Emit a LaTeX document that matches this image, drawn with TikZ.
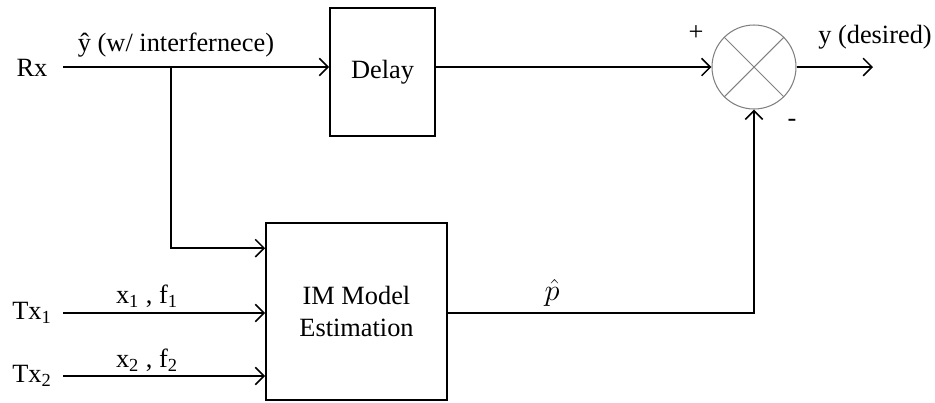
\documentclass[tikz,border=0pt]{standalone}
\usepackage{fontspec}
\setmainfont{Liberation Serif}
\usetikzlibrary{arrows.meta, calc, positioning}
\tikzset{
    block/.style={draw, line width=0.9pt, inner sep=0pt},
    signal/.style={line width=0.9pt, -{Straight Barb[length=5pt,width=10pt]}},
    mixer/.style={draw=gray, line width=0.6pt, circle, minimum size=1.68cm, inner sep=0pt}
}
\begin{document}
\begin{tikzpicture}[font=\fontsize{15}{18}\selectfont]
    \useasboundingbox (0, 0) rectangle (18.7, -8.04);
    % blocks
    \node[block, minimum width=2.1cm, minimum height=2.56cm] (delay) at (7.65, -1.44) {Delay};
    \node[block, minimum width=3.62cm, minimum height=3.54cm, align=center] (im) at (7.13, -6.23) {IM Model\\Estimation};
    \node[mixer] (sum) at (15.08, -1.34) {};
    \draw[gray, line width=0.6pt]
    (sum.north west) -- (sum.south east)
    (sum.north east) -- (sum.south west);
    % free ends
    \coordinate (rxin) at (1.26, -1.34);
    \coordinate (tap) at (3.42, -1.34);
    \coordinate (txa) at (1.26, -6.26);
    \coordinate (txb) at (1.26, -7.52);
    \coordinate (yout) at (17.46, -1.34);
    % signals
    \draw[signal] (rxin) -- (rxin -| delay.west);
    \draw[signal] (tap) |- ([yshift=-0.52cm]im.north west);
    \draw[signal] (txa) -- (txa -| im.west);
    \draw[signal] (txb) -- (txb -| im.west);
    \draw[signal] (delay.east |- rxin) -- (sum.west);
    \draw[signal] (im.east |- txa) -| (sum.south);
    \draw[signal] (sum.east) -- (yout);
    % labels
    \node (rx) at (0.64, -1.36) {Rx};
    \node (tx1) at (0.64, -6.26) {Tx\textsubscript{1}};
    \node (tx2) at (0.64, -7.52) {Tx\textsubscript{2}};
    \node (yhat) at (3.52, -0.9) {ŷ (w/ interfernece)};
    \node (xf1) at (2.94, -5.92) {x\textsubscript{1} , f\textsubscript{1}};
    \node (xf2) at (2.94, -7.2) {x\textsubscript{2} , f\textsubscript{2}};
    \node[font=\fontsize{19}{22}\selectfont] (phat) at (11.04, -5.86) {$\hat{p}$};
    \node (ydes) at (17.5, -0.74) {y (desired)};
    \node (plus) at (13.92, -0.66) {+};
    \node (minus) at (15.84, -2.46) {-};
\end{tikzpicture}
\end{document}
